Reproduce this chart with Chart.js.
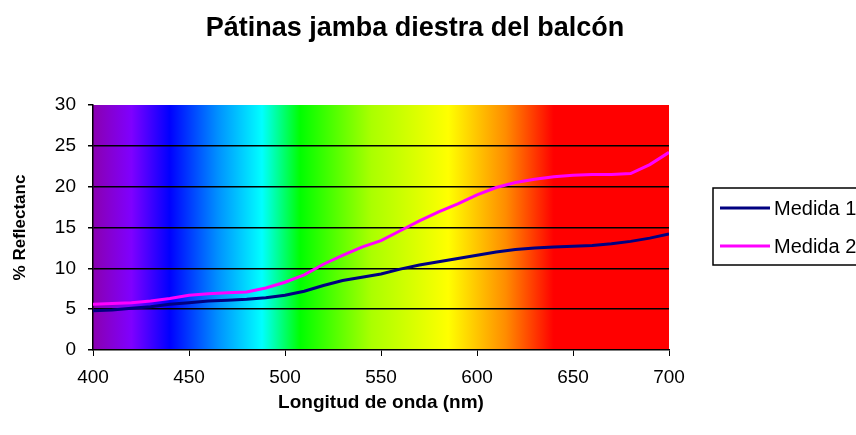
<!DOCTYPE html>
<html>
<head>
<meta charset="utf-8">
<script src="https://cdn.jsdelivr.net/npm/chart.js@4.4.0/dist/chart.umd.min.js"></script>
<style>
html,body{margin:0;padding:0;background:#ffffff;}
#wrap{width:856px;height:435px;position:relative;}
</style>
</head>
<body>
<div id="wrap"><canvas id="c" width="856" height="435"></canvas></div>
<script>
// ---- data ----
const titleText = 'Pátinas jamba diestra del balcón';
const xAxisTitle = 'Longitud de onda (nm)';
const yAxisTitle = '% Reflectanc';
const seriesNames = ['Medida 1', 'Medida 2'];
const wavelengths = [400,410,420,430,440,450,460,470,480,490,500,510,520,530,540,550,560,570,580,590,600,610,620,630,640,650,660,670,680,690,700];
const medida1 = [4.8,4.9,5.1,5.3,5.6,5.8,6.0,6.1,6.2,6.4,6.7,7.2,7.9,8.5,8.9,9.3,9.9,10.4,10.8,11.2,11.6,12.0,12.3,12.5,12.6,12.7,12.8,13.0,13.3,13.7,14.2];
const medida2 = [5.6,5.7,5.8,6.0,6.3,6.7,6.9,7.0,7.1,7.6,8.3,9.2,10.5,11.6,12.6,13.4,14.6,15.8,16.9,17.9,19.0,19.9,20.5,20.9,21.2,21.4,21.5,21.5,21.6,22.7,24.2];
const xTickValues = [400,450,500,550,600,650,700];
const yTickValues = [0,5,10,15,20,25,30];

// spectrum background stops (wavelength, colour)
const spectrumNm = [400,420,440,465,488,508,545,585,615,640,700];
const spectrumColors = ['#8a00b0','#7f00ff','#0000ff','#0090ff','#00ffff','#00ff00','#aaff00','#ffff00','#ff8c00','#ff0000','#ff0000'];

const colors = ['#000080', '#ff00ff'];
const FONT = 'Arial, "Liberation Sans", sans-serif';

const spectrumPlugin = {
  id: 'spectrum',
  beforeDraw(chart) {
    const {ctx, chartArea: a, scales: {x}} = chart;
    const g = ctx.createLinearGradient(a.left, 0, a.right, 0);
    const w = a.right - a.left;
    spectrumNm.forEach((nm, i) => {
      const p = (x.getPixelForValue(nm) - a.left) / w;
      g.addColorStop(Math.min(1, Math.max(0, p)), spectrumColors[i]);
    });
    ctx.save();
    ctx.fillStyle = g;
    ctx.fillRect(a.left, a.top, w, a.bottom - a.top);
    ctx.restore();
  }
};

const titlePlugin = {
  id: 'customTitle',
  afterDraw(chart) {
    const {ctx} = chart;
    ctx.save();
    ctx.font = 'bold 27px ' + FONT;
    ctx.fillStyle = '#000';
    ctx.textAlign = 'center';
    ctx.textBaseline = 'alphabetic';
    ctx.fillText(titleText, 415, 36);
    ctx.restore();
  }
};

const legendPlugin = {
  id: 'customLegend',
  afterDraw(chart) {
    const {ctx} = chart;
    ctx.save();
    ctx.strokeStyle = '#000';
    ctx.lineWidth = 1.5;
    ctx.strokeRect(713, 188, 200, 77);
    ctx.font = '20px ' + FONT;
    ctx.textBaseline = 'middle';
    ctx.textAlign = 'left';
    seriesNames.forEach((name, i) => {
      const y = 208 + i * 38;
      ctx.strokeStyle = colors[i];
      ctx.lineWidth = 3;
      ctx.beginPath();
      ctx.moveTo(720, y);
      ctx.lineTo(770, y);
      ctx.stroke();
      ctx.fillStyle = '#000';
      ctx.fillText(name, 774, y + 1);
    });
    ctx.restore();
  }
};

const toPoints = arr => arr.map((v, i) => ({x: wavelengths[i], y: v}));

new Chart(document.getElementById('c'), {
  type: 'line',
  data: {
    datasets: [
      {label: seriesNames[0], data: toPoints(medida1), borderColor: colors[0], backgroundColor: colors[0], borderWidth: 3, pointRadius: 0, tension: 0, fill: false},
      {label: seriesNames[1], data: toPoints(medida2), borderColor: colors[1], backgroundColor: colors[1], borderWidth: 3, pointRadius: 0, tension: 0, fill: false}
    ]
  },
  options: {
    responsive: false,
    animation: false,
    devicePixelRatio: 1,
    layout: {padding: {top: 105, right: 187, left: 0, bottom: 0}},
    plugins: {legend: {display: false}, title: {display: false}, tooltip: {enabled: false}},
    scales: {
      x: {
        type: 'linear', min: 400, max: 700,
        afterBuildTicks: s => { s.ticks = xTickValues.map(v => ({value: v})); },
        afterFit: s => { s.height = 85; },
        grid: {drawOnChartArea: false, color: '#000', tickColor: '#000', tickLength: 6, lineWidth: 1},
        border: {display: true, color: '#000', width: 1.5},
        ticks: {color: '#000', font: {family: FONT, size: 19}, padding: 10, maxRotation: 0},
        title: {display: true, text: xAxisTitle, color: '#000', font: {family: FONT, size: 19, weight: 'bold'}, padding: {top: 0, bottom: 21}}
      },
      y: {
        type: 'linear', min: 0, max: 30,
        afterBuildTicks: s => { s.ticks = yTickValues.map(v => ({value: v})); },
        afterFit: s => { s.width = 93; },
        grid: {
          color: c => (c.tick && (c.tick.value === 30 || c.tick.value === 0)) ? 'rgba(0,0,0,0)' : '#000',
          tickColor: '#000', tickLength: 5, lineWidth: 1.5
        },
        border: {display: true, color: '#000', width: 1.5},
        ticks: {color: '#000', font: {family: FONT, size: 19}, padding: 12},
        title: {display: true, text: yAxisTitle, color: '#000', font: {family: FONT, size: 17, weight: 'bold'}, padding: {top: 10, bottom: 0}}
      }
    }
  },
  plugins: [spectrumPlugin, titlePlugin, legendPlugin]
});
</script>
</body>
</html>
